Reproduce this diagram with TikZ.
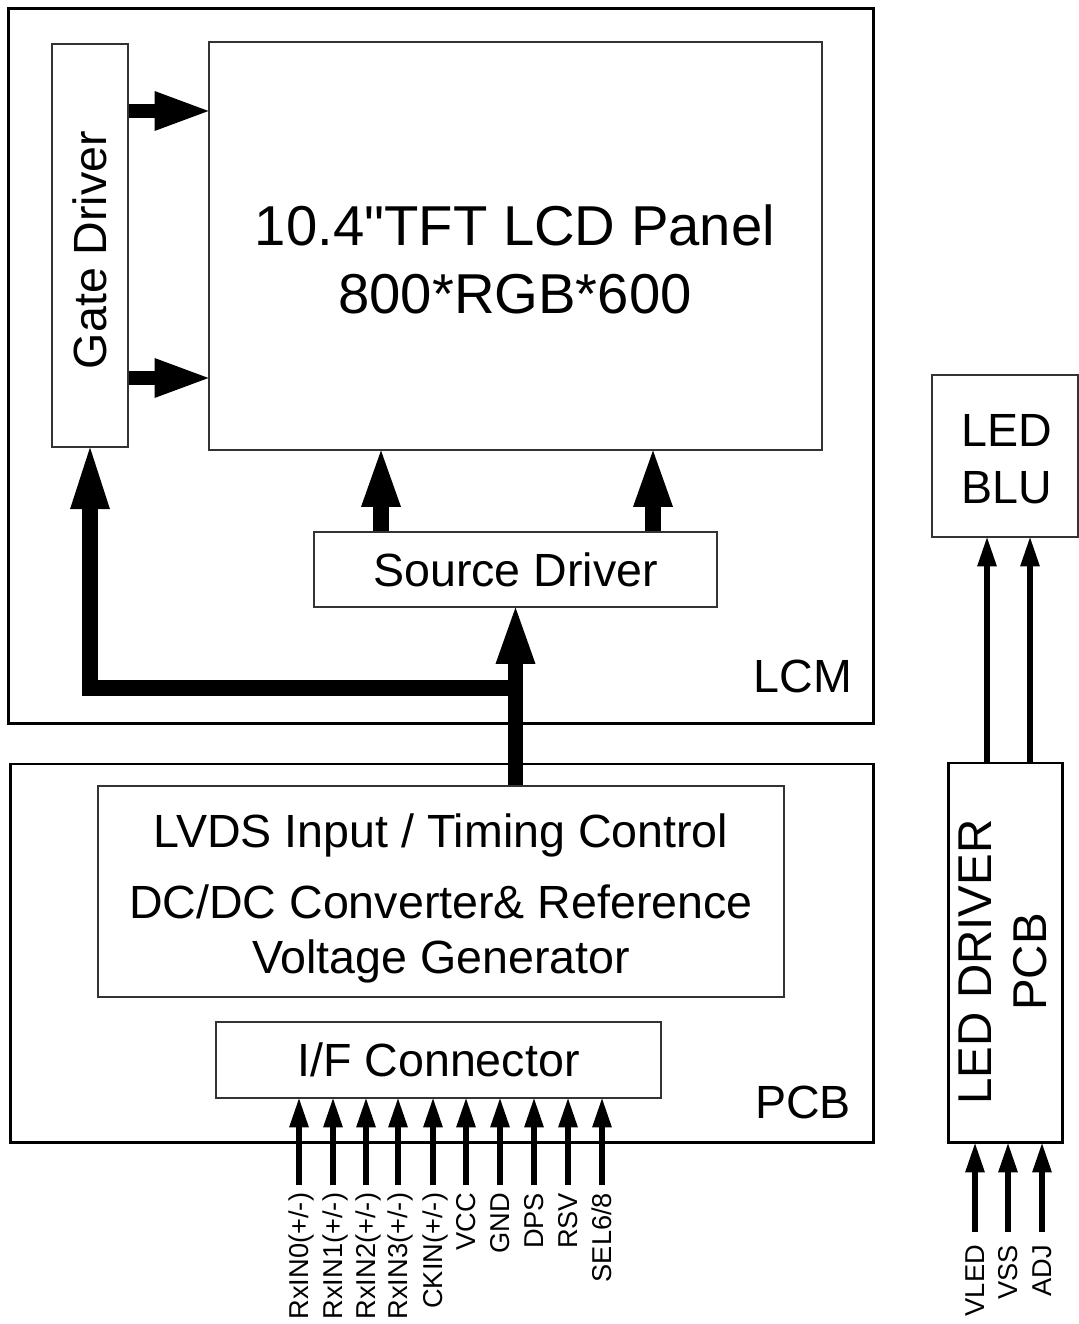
\documentclass[tikz,border=0pt]{standalone}
\usepackage{fontspec}
\setmainfont{Liberation Sans}
\usetikzlibrary{arrows.meta, positioning}
\newcommand{\straightquote}{\XeTeXglyph\XeTeXcharglyph"22\relax}

\begin{document}
\begin{tikzpicture}[x=0.2mm, y=-0.2mm,
  outerbox/.style={draw, line width=1.7pt, inner sep=0pt},
  blk/.style={draw=black!80, line width=0.6pt, inner sep=0pt},
  bigtxt/.style={font=\fontsize{26.5}{31.3}\selectfont, align=center, inner sep=0pt},
  busarrow/.style={line width=9pt, line join=miter, -{Triangle[length=32pt, width=22.7pt, line width=0pt]}},
  gatearrow/.style={line width=8pt, -{Triangle[length=30.6pt, width=22.7pt, line width=0pt]}},
  pinarrow/.style={line width=3.4pt, -{Triangle[length=16.4pt, width=11.3pt, line width=0pt]}},
  pinlbl/.style={rotate=90, anchor=east, inner sep=0pt, text height=11.1pt,
                 text depth=0pt, font=\fontsize{15.5}{18}\selectfont}
]
  \useasboundingbox (0,0) rectangle (1078,1324);

  % frames
  \node[outerbox, minimum width=172.8mm, minimum height=142.8mm] (lcm) at (441,366) {};
  \node[outerbox, minimum width=172.4mm, minimum height=75.6mm] (pcb) at (442,953) {};
  \node[outerbox, minimum width=22.8mm, minimum height=75.8mm] (leddrv) at (1005,952.5) {};
  \node[bigtxt] at (803,676) {LCM};
  \node[bigtxt] at (803,1102) {PCB};

  % blocks inside LCM
  \node[blk, minimum width=15.2mm, minimum height=80.6mm] (gate) at (90,245.5) {};
  \node[bigtxt, rotate=90] (gatetxt) at (90,250) {Gate Driver};
  \node[blk, minimum width=122.6mm, minimum height=81.6mm] (panel) at (515.5,246) {};
  \node[align=center, inner sep=0pt, font=\fontsize{32}{38.7}\selectfont] (paneltxt)
    at (515,259) {10.4\straightquote TFT LCD Panel\\800*RGB*600};
  \node[blk, bigtxt, minimum width=80.6mm, minimum height=15mm] (src) at (515.5,569.5) {Source Driver};

  % blocks inside PCB
  \node[blk, minimum width=137.2mm, minimum height=42.2mm] (lvds) at (441,891.5) {};
  \node[bigtxt] (lvdstxt) at (441,898)
    {LVDS Input / Timing Control\\[9.1pt]DC/DC Converter\& Reference\\Voltage Generator};
  \node[blk, bigtxt, minimum width=89mm, minimum height=15.2mm] (ifc) at (438.5,1060) {I/F Connector};

  % backlight
  \node[blk, minimum width=29.2mm, minimum height=32.4mm] (blu) at (1005,456) {};
  \node[font=\fontsize{26.5}{32.4}\selectfont, align=center, inner sep=0pt]
    (blutxt) at (1007,459) {LED\\BLU};
  \node[rotate=90, align=center, inner sep=0pt, font=\fontsize{27}{31.3}\selectfont]
    (leddrvtxt) at (1003,962) {LED DRIVER\\PCB};

  % data paths
  \draw[gatearrow] (gate.east |- 0,111) -- (panel.west |- 0,111);
  \draw[gatearrow] (gate.east |- 0,378) -- (panel.west |- 0,378);
  \draw[busarrow] (src.north -| 381,0) -- (panel.south -| 381,0);
  \draw[busarrow] (src.north -| 653,0) -- (panel.south -| 653,0);
  \draw[busarrow] (lvds.north -| src.south) -- (src.south);
  \draw[busarrow, -{Triangle[length=35pt, width=22.7pt, line width=0pt]}]
    (src.south |- 0,688) -| (gate.south);

  % interface pins
  \foreach \x/\sig [count=\i] in {299/{RxIN0(+/-)}, 333/{RxIN1(+/-)}, 366/{RxIN2(+/-)},
      398/{RxIN3(+/-)}, 433/{CKIN(+/-)}, 466/{VCC}, 500/{GND}, 534/{DPS}, 568/{RSV}, 602/{SEL6/8}} {
    \node[pinlbl, outer xsep=4.5pt] (sig\i) at (\x,1185) {\sig};
    \draw[pinarrow] (sig\i.east) -- (sig\i.east |- ifc.south);
  }

  % LED driver
  \draw[pinarrow] (leddrv.north -| 987,0) -- (blu.south -| 987,0);
  \draw[pinarrow] (leddrv.north -| 1030,0) -- (blu.south -| 1030,0);
  \foreach \x/\sig [count=\i] in {975/VLED, 1008/VSS, 1042/ADJ} {
    \node[pinlbl, outer xsep=7.4pt] (led\i) at (\x,1232) {\sig};
    \draw[pinarrow] (led\i.east) -- (led\i.east |- leddrv.south);
  }
\end{tikzpicture}
\end{document}
